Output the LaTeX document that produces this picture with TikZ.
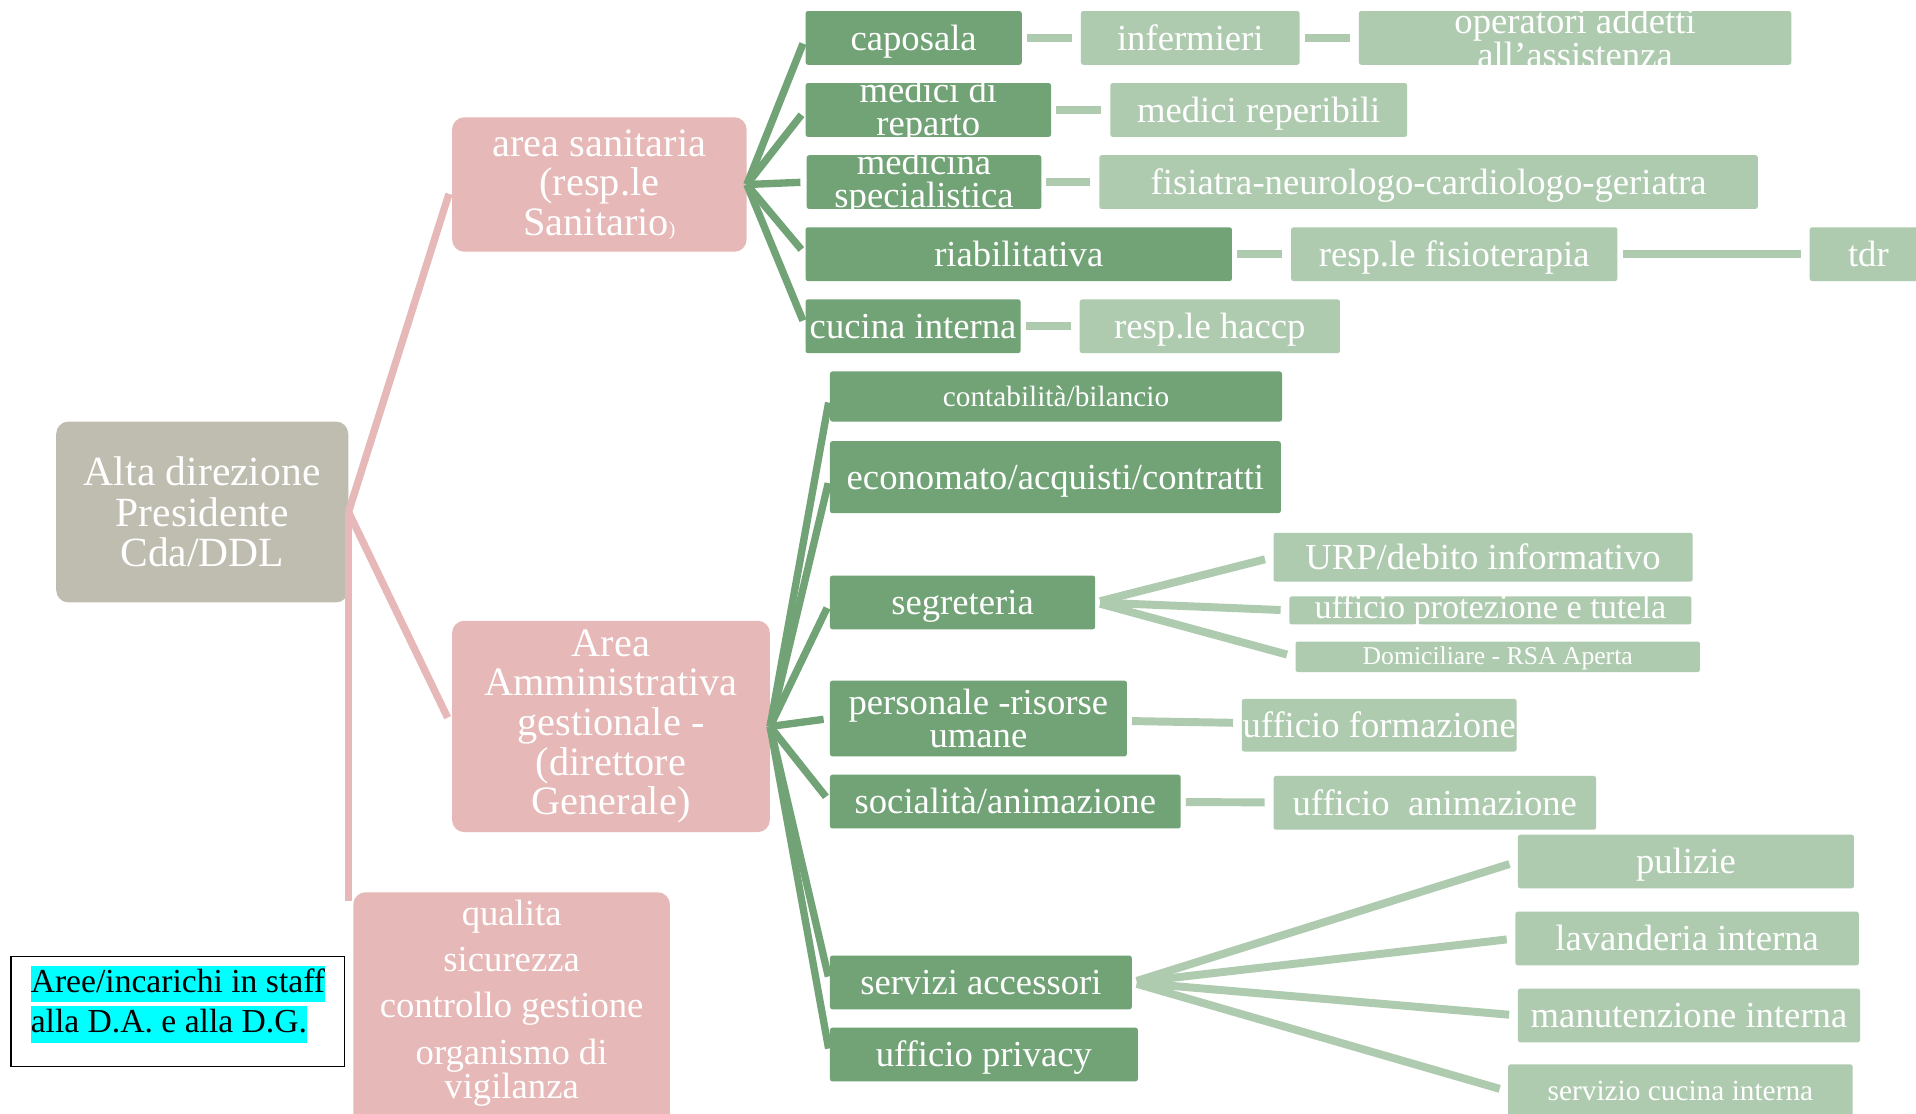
\documentclass[tikz,border=0pt]{standalone}
\usepackage{fontspec}
\setmainfont{Liberation Serif}
\usepackage{tikz}
\usetikzlibrary{positioning}
\definecolor{greybox}{HTML}{BFBDAF}
\definecolor{pinkbox}{HTML}{E6B8B7}
\definecolor{darkgreen}{HTML}{71A376}
\definecolor{lightgreen}{HTML}{AECBAF}
\definecolor{hlcyan}{HTML}{00FFFF}
\setlength{\fboxsep}{0pt}
\newcommand{\hl}[1]{\colorbox{hlcyan}{\rule[-8pt]{0pt}{30pt}#1}}
\tikzset{
    %Define style for boxes
    topbox/.style={
           rectangle,
           rounded corners=10pt,
           fill=greybox,
           text=white,
           inner sep=0pt,
           align=center,
           font=\fontsize{34}{33}\selectfont},
    areabox/.style={
           rectangle,
           rounded corners=10pt,
           fill=pinkbox,
           text=white,
           inner sep=0pt,
           align=center,
           font=\fontsize{33}{32.5}\selectfont},
    unitbox/.style={
           rectangle,
           rounded corners=2pt,
           fill=darkgreen,
           text=white,
           inner sep=0pt,
           minimum height=44pt,
           text height=24pt,
           text depth=4pt,
           anchor=west,
           align=center,
           font=\fontsize{30}{27}\selectfont},
    subbox/.style={
           unitbox,
           fill=lightgreen},
    boxtext/.style={
           text=white,
           inner sep=0pt,
           align=center,
           font=\fontsize{30}{27}\selectfont},
    stafftext/.style={
           text=white,
           inner sep=0pt,
           align=center,
           anchor=north,
           font=\fontsize{30}{28}\selectfont},
    legbox/.style={
           rectangle,
           draw=black,
           line width=1pt,
           fill=white,
           minimum width=273pt,
           minimum height=90pt},
    legtext/.style={
           inner sep=0pt,
           align=left,
           anchor=north west,
           font=\fontsize{27.5}{33}\selectfont}
}
\begin{document}
\begin{tikzpicture}[x=1pt,y=-1pt,
    pinkline/.style={draw=pinkbox, line width=6pt, shorten >=8pt},
    darkline/.style={draw=darkgreen, line width=6pt, shorten >=5pt},
    lightline/.style={draw=lightgreen, line width=6.5pt, shorten <=4pt, shorten >=7pt}]
\path[use as bounding box, fill=white] (0,0) rectangle (1568,911);
\node[topbox, minimum width=239pt, minimum height=148pt] (root) at (165.5,419) {Alta direzione\\Presidente\\Cda/DDL};
\node[areabox, minimum width=241pt, minimum height=110pt] (san) at (490.5,151) {area sanitaria\\(resp.le\\Sanitario{\fontsize{16}{16}\selectfont)}};
\node[areabox, minimum width=260pt, minimum height=173pt] (amm) at (500,594.5) {Area\\Amministrativa\\gestionale -\\(direttore\\Generale)};
\node[areabox, minimum width=259pt, minimum height=200pt, anchor=north west] (stf) at (289,730) {};
\node[stafftext] (stftxt) at ([yshift=-6pt]stf.north) {qualita\\[10pt]sicurezza\\[10pt]controllo gestione\\[10pt]organismo di\\vigilanza};
\node[legbox] (leg) at (145.5,828) {};
\node[legtext] (legtxt) at (25,790) {\hl{Aree/incarichi in staff}\\\hl{alla D.A. e alla D.G.}};
\coordinate (stfin) at ([xshift=-2pt,yshift=-7pt]stf.north west);

\node[unitbox, minimum width=177pt] (cap) at (659,31) {caposala};
\node[unitbox, minimum width=201pt, label={[boxtext]center:medici di\\reparto}] (med) at (659,90) {};
\node[unitbox, minimum width=192pt, label={[boxtext]center:medicina\\specialistica}] (spe) at (660,149) {};
\node[unitbox, minimum width=349pt] (ria) at (659,208) {riabilitativa};
\node[unitbox, minimum width=176pt] (cuc) at (659,267) {cucina interna};
\node[subbox, minimum width=179pt, right=48pt of cap] (inf) {infermieri};
\node[subbox, minimum width=354pt, right=48pt of inf, label={[boxtext]center:operatori addetti\\all'assistenza}] (ope) {};
\node[subbox, minimum width=243pt, right=48pt of med] (rep) {medici reperibili};
\node[subbox, minimum width=539pt, right=47pt of spe] (fis) {fisiatra-neurologo-cardiologo-geriatra};
\node[subbox, minimum width=267pt, right=48pt of ria] (fio) {resp.le fisioterapia};
\node[subbox, minimum width=96pt, right=157pt of fio] (tdr) {tdr};
\node[subbox, minimum width=213pt, right=48pt of cuc] (hac) {resp.le haccp};

\node[unitbox, minimum width=370pt, minimum height=41pt, text height=19pt, text depth=3pt, font=\fontsize{24}{24}\selectfont] (con) at (679,324.5) {contabilità/bilancio};
\node[unitbox, minimum width=369pt, minimum height=59pt] (eco) at (679,390.5) {economato/acquisti/contratti};
\node[unitbox, minimum width=217pt] (seg) at (679,493) {segreteria};
\node[unitbox, minimum width=243pt, minimum height=62pt, label={[boxtext]center:personale -risorse\\umane}] (per) at (679,588) {};
\node[unitbox, minimum width=287pt] (soc) at (679,656) {socialità/animazione};
\node[unitbox, minimum width=247pt] (ser) at (679,804) {servizi accessori};
\node[unitbox, minimum width=252pt] (pri) at (679,863) {ufficio privacy};
\node[subbox, minimum width=343pt, minimum height=40pt] (urp) at (1042,456) {URP/debito informativo};
\node[subbox, minimum width=329pt, minimum height=23pt, text height=0pt, text depth=0pt, label={[boxtext, font=\fontsize{28}{28}\selectfont]center:ufficio protezione e tutela}] (pro) at (1055,499.5) {};
\node[subbox, minimum width=331pt, minimum height=25pt, text height=16pt, text depth=3pt, font=\fontsize{21}{21}\selectfont] (dom) at (1060,537.5) {Domiciliare - RSA Aperta};
\node[subbox, minimum width=225pt, minimum height=43pt] (frm) at (1016,593.5) {ufficio formazione};
\node[subbox, minimum width=264pt] (ani) at (1042,657) {ufficio~ animazione};
\node[subbox, minimum width=275pt] (pul) at (1242,705) {pulizie};
\node[subbox, minimum width=281pt] (lav) at (1240,768) {lavanderia interna};
\node[subbox, minimum width=280pt] (man) at (1242,831) {manutenzione interna};
\node[subbox, minimum width=282pt, text height=19pt, text depth=3pt, font=\fontsize{24}{24}\selectfont] (cci) at (1234,893) {servizio cucina interna};

\path[pinkline]
	(root.east) edge (san.west) edge (amm.west)
	(root.east) edge[shorten >=0pt] (root.east |- stfin);
\path[darkline]
	(san.east) edge (cap.west) edge (med.west) edge (spe.west) edge (ria.west) edge (cuc.west)
	(amm.east) edge (con.west) edge (eco.west) edge (seg.west) edge (per.west) edge (soc.west) edge (ser.west) edge (pri.west);
\path[lightline]
	(cap) edge (inf)
	(inf) edge (ope)
	(med) edge (rep)
	(spe) edge (fis)
	(ria) edge (fio)
	(fio) edge (tdr)
	(cuc) edge (hac)
	(seg.east) edge (urp.west) edge (pro.west) edge (dom.west)
	(per) edge (frm)
	(soc) edge (ani)
	(ser.east) edge (pul.west) edge (lav.west) edge (man.west) edge (cci.west);
\end{tikzpicture}
\end{document}
